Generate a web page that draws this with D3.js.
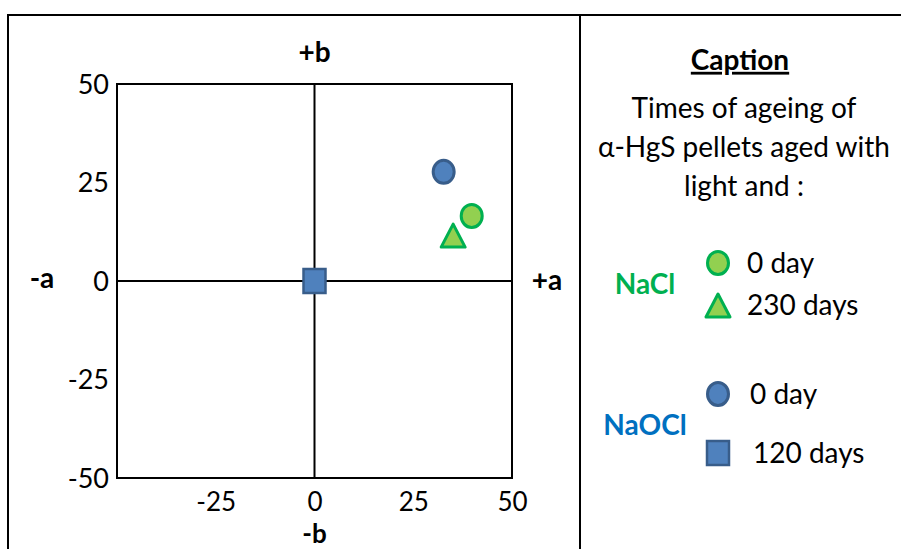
<!DOCTYPE html>
<html><head><meta charset="utf-8">
<script src="https://cdn.jsdelivr.net/npm/d3@7/dist/d3.min.js"></script>
<style>body{margin:0;background:#fff}svg{display:block}text{font-family:Lato,"Open Sans",sans-serif}</style>
</head><body>
<svg id="c" width="901" height="549"></svg>
<script>
// Data
const series = ["NaCl 0 day","NaCl 230 days","NaOCl 0 day","NaOCl 120 days"];
const aValues = [39.8, 35.1, 32.7, 0];
const bValues = [16.5, 11.4, 27.7, 0];
const shapes = ["circle","triangle","circle","square"];
const groups = ["NaCl","NaCl","NaOCl","NaOCl"];
const xTicks = [-25, 0, 25, 50];
const yTicks = [-50, -25, 0, 25, 50];
const legendLabels = ["0 day","230 days","0 day","120 days"];
const captionLines = ["Times of ageing of","α-HgS pellets aged with","light and :"];

const fillC = {NaCl:"#92D050", NaOCl:"#4F81BD"};
const strokeC = {NaCl:"#00B050", NaOCl:"#385D8A"};
const groupText = {NaCl:"#00B050", NaOCl:"#0070C0"};

const svg = d3.select("#c");
// outer frame
svg.append("rect").attr("x",8).attr("y",15).attr("width",905).attr("height",560)
  .attr("fill","none").attr("stroke","#000").attr("stroke-width",2);
svg.append("line").attr("x1",580).attr("x2",580).attr("y1",15).attr("y2",560)
  .attr("stroke","#000").attr("stroke-width",2);

const L=117,R=512,T=84,B=478;
const x = d3.scaleLinear().domain([-50,50]).range([L,R]);
const y = d3.scaleLinear().domain([-50,50]).range([B,T]);

const g = svg.append("g");
g.append("rect").attr("x",L).attr("y",T).attr("width",R-L).attr("height",B-T)
  .attr("fill","none").attr("stroke","#000").attr("stroke-width",2);
g.append("line").attr("x1",x(0)).attr("x2",x(0)).attr("y1",T).attr("y2",B).attr("stroke","#000").attr("stroke-width",2);
g.append("line").attr("x1",L).attr("x2",R).attr("y1",y(0)).attr("y2",y(0)).attr("stroke","#000").attr("stroke-width",2);

// axes (labels only, via d3 axes)
const fmt = d => String(d);
const xAxis = d3.axisBottom(x).tickValues(xTicks).tickSize(0).tickPadding(33).tickFormat(fmt);
const xg = svg.append("g").attr("transform",`translate(0,${B})`).call(xAxis);
const yAxis = d3.axisLeft(y).tickValues(yTicks).tickSize(0).tickPadding(8).tickFormat(fmt);
const yg = svg.append("g").attr("transform",`translate(${L},0)`).call(yAxis);
[xg,yg].forEach(a=>{a.select(".domain").remove();
  a.selectAll("text").attr("font-family","Lato, sans-serif").attr("font-size",27).attr("fill","#000");});
yg.selectAll("text").attr("dy","0.35em");
xg.selectAll("text").attr("dy","0").attr("font-size",26);

// axis direction labels
const dirLabels = [["+b",x(0),52,28],["-b",x(0),534,26],["-a",42,278,28],["+a",547,280,28]];
svg.selectAll(".dir").data(dirLabels).join("text").attr("class","dir")
  .attr("x",d=>d[1]).attr("y",d=>d[2]).attr("dy","0.35em").attr("text-anchor","middle")
  .attr("font-weight","bold").attr("font-size",d=>d[3]).text(d=>d[0]);

function drawShape(sel, shape, cx, cy, grp){
  const f=fillC[grp], s=strokeC[grp];
  if(shape==="circle"){
    sel.append("ellipse").attr("cx",cx).attr("cy",cy).attr("rx",10.5).attr("ry",11.5)
      .attr("fill",f).attr("stroke",s).attr("stroke-width",3);
  } else if(shape==="triangle"){
    sel.append("path").attr("d",`M${cx},${cy-12}L${cx+12},${cy+11}L${cx-12},${cy+11}Z`)
      .attr("fill",f).attr("stroke",s).attr("stroke-width",3).attr("stroke-linejoin","round");
  } else {
    sel.append("rect").attr("x",cx-11).attr("y",cy-12).attr("width",22).attr("height",24)
      .attr("fill",f).attr("stroke",s).attr("stroke-width",2.5);
  }
}
series.forEach((s,i)=>drawShape(svg, shapes[i], x(aValues[i]), y(bValues[i]), groups[i]));

// caption
svg.append("text").attr("x",740).attr("y",60).attr("dy","0.35em").attr("text-anchor","middle")
  .attr("font-weight","bold").attr("font-size",28).attr("text-decoration","underline").text("Caption");
svg.selectAll(".cap").data(captionLines).join("text").attr("class","cap")
  .attr("x",744).attr("y",(d,i)=>108+i*39).attr("dy","0.35em").attr("text-anchor","middle")
  .attr("font-size",28).text(d=>d);

// legend
const legY = [263,305,394,453];
const legTextX = [747,747,750,753];
series.forEach((s,i)=>{
  drawShape(svg, shapes[i], 718, legY[i]+(shapes[i]==="triangle"?1:0), groups[i]);
  svg.append("text").attr("x",legTextX[i]).attr("y",legY[i]).attr("dy","0.35em")
    .attr("font-size",28).text(legendLabels[i]);
});
const grpLab = [["NaCl",645,284],["NaOCl",645,425]];
svg.selectAll(".grp").data(grpLab).join("text").attr("class","grp")
  .attr("x",d=>d[1]).attr("y",d=>d[2]).attr("dy","0.35em").attr("text-anchor","middle")
  .attr("font-weight","bold").attr("font-size",28).attr("fill",d=>groupText[d[0]]).text(d=>d[0]);
</script>
</body></html>
